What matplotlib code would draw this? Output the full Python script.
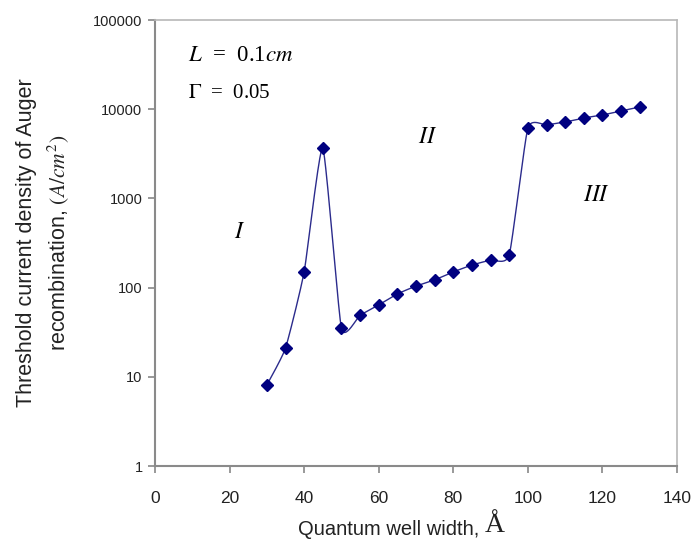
import numpy as np
import matplotlib.pyplot as plt

# ── data ──────────────────────────────────────────────────────────────────
well_width = [30, 35, 40, 45, 50, 55, 60, 65, 70, 75, 80, 85, 90, 95,
              100, 105, 110, 115, 120, 125, 130]
j_auger = [8.1, 21, 150, 3670, 35, 49, 64, 85, 104, 122, 150, 179, 204, 232,
           6150, 6650, 7190, 7970, 8610, 9550, 10600]

x_ticks = [0, 20, 40, 60, 80, 100, 120, 140]
y_ticks = [1, 10, 100, 1000, 10000, 100000]


def excel_smooth(x, y, k=1 / 12, sx=3.73, sy=89.2, n=30):
    """Bezier 'smoothed line' through the points, in screen-like units."""
    u = np.asarray(x, float) * sx
    v = np.log10(np.asarray(y, float)) * sy
    P = np.column_stack([u, v])
    P = np.vstack([P[0], P, P[-1]])
    out = []
    t = np.linspace(0, 1, n)[:, None]
    for i in range(1, len(P) - 2):
        p0, p1, p2, p3 = P[i - 1], P[i], P[i + 1], P[i + 2]
        c1 = p1 + (p2 - p0) * k
        c2 = p2 - (p3 - p1) * k
        seg = ((1 - t) ** 3) * p1 + 3 * ((1 - t) ** 2) * t * c1 \
            + 3 * (1 - t) * t ** 2 * c2 + t ** 3 * p2
        out.append(seg if i == 1 else seg[1:])
    out = np.vstack(out)
    return out[:, 0] / sx, 10 ** (out[:, 1] / sy)


plt.rcParams["font.family"] = ["Liberation Sans", "DejaVu Sans"]
plt.rcParams["mathtext.fontset"] = "stix"

fig = plt.figure(figsize=(6.93, 5.5), dpi=100)
ax = fig.add_axes([155 / 693, 1 - 466 / 550, (677 - 155) / 693, (466 - 20) / 550])

xs, ys = excel_smooth(well_width, j_auger)
ax.plot(xs, ys, color="#2b2b8c", lw=1.0, zorder=2)
ax.plot(well_width, j_auger, ls="none", marker="D", ms=6.5,
        color="#000080", mec="#000080", zorder=3)

ax.set_yscale("log")
ax.set_xlim(0, 140)
ax.set_ylim(1, 100000)
ax.set_xticks(x_ticks)
ax.set_yticks(y_ticks)
ax.set_yticklabels([str(v) for v in y_ticks])
ax.yaxis.set_minor_locator(plt.NullLocator())
ax.tick_params(direction="out", length=5, width=1.2, colors="#888888",
               labelcolor="#222222")
ax.tick_params(axis="y", labelsize=10.5, pad=4)
ax.tick_params(axis="x", labelsize=12.5, pad=13)

for side in ["left", "bottom"]:
    ax.spines[side].set_color("#8a8a8a")
    ax.spines[side].set_linewidth(1.5)
for side in ["top", "right"]:
    ax.spines[side].set_color("#b8b8b8")
    ax.spines[side].set_linewidth(1.2)

ax.set_ylabel("Threshold current density of Auger\nrecombination, $(A/cm^2)$",
              fontsize=15.5, color="#222222", labelpad=16, linespacing=1.4)
ax.set_xlabel("Quantum well width, ", fontsize=14.5, color="#222222")
ax.xaxis.set_label_coords(0.453, -0.12)
ax.annotate("Å", xy=(1, 0.05), xycoords=ax.xaxis.label, fontsize=20,
            family="Liberation Serif", color="#222222", va="bottom", ha="left")

# annotations inside the plot
ax.text(0.063, 0.921, "$L$  =  0.1$cm$", transform=ax.transAxes,
        family="Liberation Serif", fontsize=16.5, va="center", ha="left")
ax.text(0.063, 0.836, "$\\Gamma$  =  0.05", transform=ax.transAxes,
        family="Liberation Serif", fontsize=15, va="center", ha="left")
ax.text(22.8, 420, "$I$", fontsize=17, ha="center", va="center")
ax.text(73.2, 4880, "$II$", fontsize=17, ha="center", va="center")
ax.text(118.5, 1092, "$III$", fontsize=17, ha="center", va="center")

plt.savefig("out.png", dpi=100)
